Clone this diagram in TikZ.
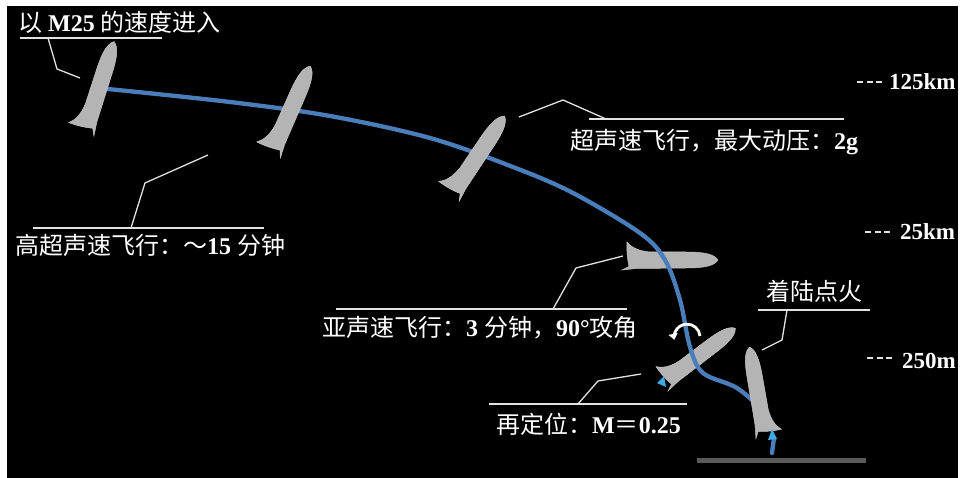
\documentclass[tikz,border=0pt]{standalone}
\usepackage{fontspec}
\setmainfont{Liberation Serif}
\newfontfamily\cjk{Noto Sans CJK SC}
\usetikzlibrary{arrows.meta}

\definecolor{rocketgray}{HTML}{B4B4B4}
\definecolor{rocketedge}{HTML}{C6C6C6}
\definecolor{pathblue}{HTML}{4A7EBB}
\definecolor{flameblue}{HTML}{3FA9E6}
\definecolor{leadergray}{HTML}{E2E2E2}
\definecolor{groundgray}{HTML}{5A5A5A}

\tikzset{
  % rocket outline: base centre at the origin, nose up, length 94pt
  rocket/.pic={
    \fill[rocketgray, draw=rocketedge, line width=0.5pt]
      (0pt,94pt) .. controls (6pt,90pt) and (8pt,80pt) .. (8pt,62pt)
      -- (8.5pt,12pt) -- (10pt,-2pt) -- (6.5pt,5pt)
      .. controls (0pt,3.5pt) and (-9pt,2.5pt) .. (-18pt,3pt)
      .. controls (-13pt,7pt) and (-9pt,14pt) .. (-8pt,26pt)
      -- (-8pt,62pt) .. controls (-8pt,80pt) and (-6pt,90pt) .. (0pt,94pt) -- cycle;
  },
  leader/.style={draw=leadergray, line width=1.3pt, line join=round},
  lbl/.style={text=white, anchor=base west, inner sep=0pt,
    font=\fontsize{24}{28}\selectfont},
  alt/.style={text=white, anchor=base west, inner sep=0pt,
    font=\fontsize{23}{27}\selectfont\bfseries},
  altdash/.style={draw=leadergray, line width=1.1pt, dash pattern=on 6pt off 3.5pt},
  traj/.style={draw=pathblue, line width=4.3pt, line cap=round},
  flame/.style={fill=flameblue},
}

\begin{document}
\begin{tikzpicture}[x=1pt, y=-1pt]
\useasboundingbox (0,0) rectangle (964,478);
\fill[white] (0,0) rectangle (964,478);
\fill[black] (7,6) rectangle (958,478);

% landing pad
\fill[groundgray] (697,458) rectangle (866,463);

% rockets lying under the trajectory
\path (624,260) pic[rotate=-90] {rocket};
\path (664,382) pic[rotate=-53, scale=0.95] {rocket};

% trajectory
\draw[traj] plot[smooth, tension=0.55] coordinates {(108,89) (230,102) (330,116) (430,138) (513,167) (573,193) (640,233) (665,260) (680,300) (690,347) (703,373) (737,388) (765,412)};
\draw[traj] (774,438) .. controls (773,445) .. (772,453);

% rockets over the trajectory
\path (85,131) pic[rotate=-18] {rocket};
\path (272,152) pic[rotate=-24] {rocket};
\path (452,194) pic[rotate=-34] {rocket};
\path (765,435) pic[rotate=10, xscale=-1, scale=0.95] {rocket};

% engine flames
\fill[flame] (657,383) -- (664,376) -- (666,387) -- cycle;
\fill[flame] (772,429) -- (768,440) -- (777,439) -- cycle;

% flip manoeuvre arrow
\draw[white, line width=2.8pt, -{Triangle[length=6pt, width=9pt]}]
  (700,336) arc[start angle=5, end angle=192, radius=13pt];

% labels
\node[lbl] (entry) at (18,32) {{\cjk 以} \textbf{M25} {\cjk 的速度进入}};
\node[lbl] (super) at (570,150) {{\cjk 超声速飞行，最大动压：}\textbf{2g}};
\node[lbl] (hyper) at (15,255) {{\cjk 高超声速飞行：～}\textbf{15} {\cjk 分钟}};
\node[lbl] (sub) at (322,337) {{\cjk 亚声速飞行：}\textbf{3} {\cjk 分钟，}\textbf{90°}{\cjk 攻角}};
\node[lbl] (reori) at (496,433) {{\cjk 再定位：}\textbf{M}{\cjk ＝}\textbf{0.25}};
\node[lbl] (burn) at (766,301) {{\cjk 着陆点火}};

% leader lines
\coordinate (e1) at (20,38);  \coordinate (e2) at (162,38);
\draw[leader] (e1) -- (e2);
\draw[leader] (48,38) -- (57,69) -- (80,78);

\coordinate (s1) at (589,119); \coordinate (s2) at (844,119);
\draw[leader] (s1) -- (s2);
\draw[leader] (519,117) -- (563,100) -- (606,119);

\coordinate (h1) at (33,228); \coordinate (h2) at (264,228);
\draw[leader] (h1) -- (h2);
\draw[leader] (131,228) -- (145,183) -- (208,155);

\coordinate (b1) at (336,309); \coordinate (b2) at (627,309);
\draw[leader] (b1) -- (b2);
\draw[leader] (553,309) -- (576,268) -- (623,256);

\coordinate (o1) at (489,404); \coordinate (o2) at (687,404);
\draw[leader] (o1) -- (o2);
\draw[leader] (578,404) -- (598,381) -- (641,374);

\coordinate (l1) at (758,310); \coordinate (l2) at (870,310);
\draw[leader] (l1) -- (l2);
\draw[leader] (787,310) -- (782,340) -- (762,350);

% altitude marks
\draw[altdash] (857,82) -- (882,82);
\node[alt] (a125) at (889,90) {125km};
\draw[altdash] (865,232) -- (890,232);
\node[alt] (a25) at (900,240) {25km};
\draw[altdash] (867,358) -- (892,358);
\node[alt] (a250) at (902,368) {250m};
\end{tikzpicture}
\end{document}
